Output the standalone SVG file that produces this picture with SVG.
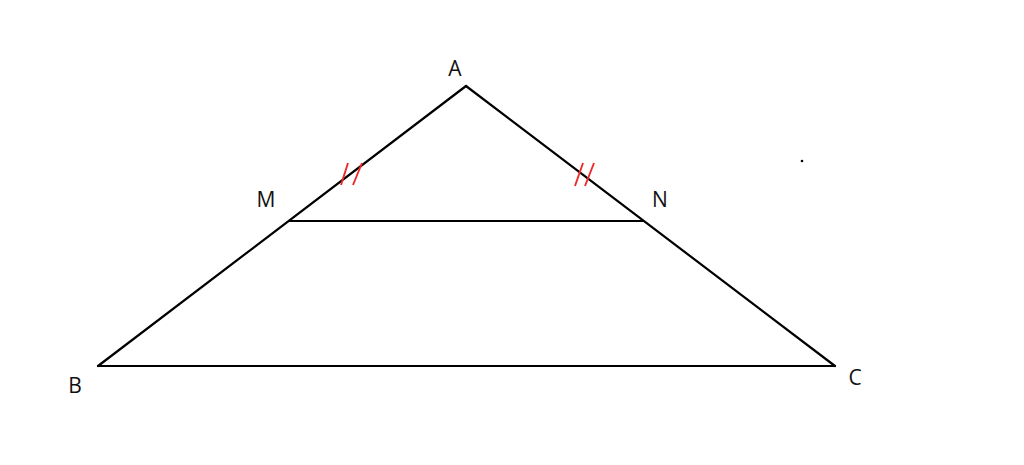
<svg xmlns="http://www.w3.org/2000/svg" width="1024" height="465" viewBox="0 0 1024 465">
<style>
.edge{stroke:#000;stroke-width:2.2;fill:none;stroke-linecap:round}
.tick{stroke:#f02828;stroke-width:1.9;fill:none}
.lbl{font-family:"Open Sans","Liberation Sans",sans-serif;font-size:21px;fill:#111;text-anchor:middle}
</style>
<rect width="1024" height="465" fill="#fff"/>
<g id="connectors">
<line class="edge" x1="466" y1="86" x2="98" y2="366"/>
<line class="edge" x1="466" y1="86" x2="835" y2="366"/>
<line class="edge" x1="98" y1="366" x2="835" y2="366"/>
<line class="edge" x1="289" y1="221" x2="643" y2="221"/>
</g>
<g id="ticks">
<line class="tick" x1="348" y1="163" x2="341" y2="185"/>
<line class="tick" x1="362" y1="163" x2="353" y2="185"/>
<line class="tick" x1="583" y1="163" x2="575" y2="186"/>
<line class="tick" x1="594" y1="163" x2="585" y2="186"/>
</g>
<g id="A"><text class="lbl" x="455" y="76">A</text></g>
<g id="M"><text class="lbl" x="266" y="207">M</text></g>
<g id="N"><text class="lbl" x="660" y="207">N</text></g>
<g id="B"><text class="lbl" x="75" y="393">B</text></g>
<g id="C"><text class="lbl" x="855" y="385">C</text></g>
<circle cx="802" cy="161" r="1.3" fill="#000"/>
</svg>
